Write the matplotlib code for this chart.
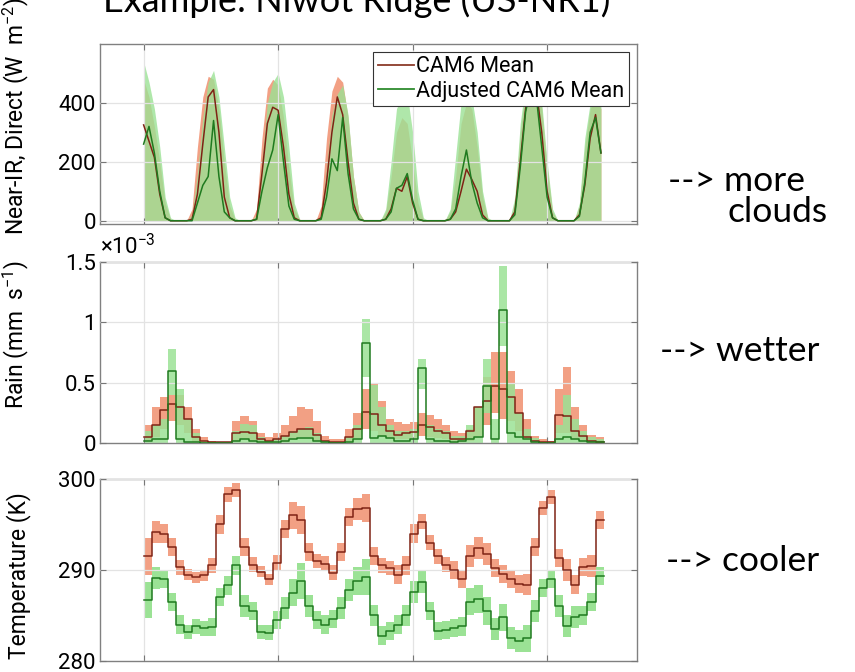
import matplotlib
matplotlib.use("Agg")
import matplotlib.pyplot as plt
from matplotlib.lines import Line2D
import numpy as np

# ---- data ----
# near-IR direct, 2-hourly, hours since start
sw_hours = list(range(0, 171, 2))
sw_cam = [325, 270, 215, 90, 10, 0, 0, 0, 0, 5, 90, 260,
          420, 445, 300, 80, 10, 0, 0, 0, 0, 5, 160, 330,
          385, 375, 250, 90, 10, 0, 0, 0, 0, 10, 130, 300,
          420, 360, 200, 60, 5, 0, 0, 0, 0, 5, 40, 110,
          100, 150, 60, 5, 0, 0, 0, 0, 0, 5, 30, 100,
          175, 140, 100, 20, 0, 0, 0, 0, 0, 30, 200, 380,
          460, 440, 300, 100, 10, 0, 0, 0, 0, 20, 120, 280,
          360, 230]
sw_adj = [260, 320, 230, 100, 10, 0, 0, 0, 0, 0, 60, 120,
          150, 340, 150, 30, 10, 0, 0, 0, 0, 5, 100, 180,
          240, 360, 200, 50, 5, 0, 0, 0, 0, 5, 80, 210,
          170, 350, 160, 40, 5, 0, 0, 0, 0, 5, 30, 110,
          120, 160, 70, 5, 0, 0, 0, 0, 0, 5, 40, 150,
          240, 130, 60, 10, 0, 0, 0, 0, 0, 20, 180, 370,
          450, 420, 250, 80, 10, 0, 0, 0, 0, 15, 130, 300,
          350, 230]
sw_cam_hi = [480, 420, 320, 200, 60, 5, 0, 0, 0, 40, 250, 420,
             490, 480, 380, 200, 50, 5, 0, 0, 0, 40, 280, 450,
             480, 460, 350, 180, 40, 5, 0, 0, 0, 50, 280, 440,
             490, 470, 350, 150, 30, 0, 0, 0, 0, 30, 150, 300,
             350, 330, 200, 60, 5, 0, 0, 0, 0, 30, 150, 330,
             400, 380, 250, 80, 5, 0, 0, 0, 0, 60, 300, 450,
             490, 480, 380, 180, 30, 0, 0, 0, 0, 50, 250, 380,
             420, 380]
sw_adj_hi = [540, 470, 380, 250, 80, 10, 0, 0, 0, 20, 160, 350,
             470, 510, 420, 250, 80, 10, 0, 0, 0, 20, 200, 400,
             470, 500, 420, 250, 60, 5, 0, 0, 0, 20, 180, 360,
             430, 460, 360, 150, 30, 0, 0, 0, 0, 40, 200, 380,
             420, 430, 300, 100, 10, 0, 0, 0, 0, 40, 220, 400,
             450, 420, 300, 100, 10, 0, 0, 0, 0, 80, 330, 470,
             500, 490, 400, 200, 40, 0, 0, 0, 0, 60, 280, 400,
             430, 400]

# rain (x 1e-3 mm/s), 3-hourly steps
rain_cam = [0.05, 0.15, 0.27, 0.32, 0.30, 0.20, 0.05, 0.02, 0.01, 0.005,
            0.005, 0.08, 0.09, 0.08, 0.03, 0.02, 0.03, 0.06, 0.09, 0.12,
            0.12, 0.07, 0.02, 0.01, 0.01, 0.05, 0.12, 0.26, 0.24, 0.15,
            0.10, 0.07, 0.08, 0.09, 0.15, 0.13, 0.10, 0.08, 0.03, 0.03,
            0.10, 0.30, 0.35, 0.47, 0.45, 0.38, 0.25, 0.05, 0.02, 0.01,
            0.005, 0.23, 0.22, 0.10, 0.06, 0.02, 0.01]
rain_cam_lo = [0.02, 0.05, 0.12, 0.18, 0.15, 0.08, 0.01, 0, 0, 0,
               0, 0.02, 0.03, 0.02, 0.01, 0, 0, 0.01, 0.03, 0.05,
               0.05, 0.02, 0, 0, 0, 0.01, 0.04, 0.12, 0.10, 0.06,
               0.04, 0.03, 0.03, 0.04, 0.06, 0.05, 0.04, 0.03, 0.01, 0.01,
               0.02, 0.06, 0.15, 0.25, 0.20, 0.18, 0.10, 0.03, 0, 0,
               0, 0.08, 0.08, 0.03, 0.02, 0, 0]
rain_cam_hi = [0.15, 0.30, 0.38, 0.40, 0.40, 0.30, 0.12, 0.05, 0.02, 0.01,
               0.01, 0.18, 0.22, 0.18, 0.08, 0.05, 0.08, 0.15, 0.22, 0.30,
               0.28, 0.18, 0.06, 0.03, 0.03, 0.12, 0.25, 0.45, 0.50, 0.35,
               0.20, 0.17, 0.16, 0.17, 0.25, 0.23, 0.20, 0.15, 0.10, 0.08,
               0.12, 0.30, 0.55, 0.75, 0.75, 0.60, 0.45, 0.20, 0.06, 0.03,
               0.02, 0.45, 0.63, 0.30, 0.15, 0.07, 0.05]
rain_adj = [0.02, 0.03, 0.03, 0.60, 0.03, 0.01, 0.005, 0, 0, 0,
            0, 0.02, 0.03, 0.02, 0.01, 0.005, 0.01, 0.02, 0.03, 0.04,
            0.04, 0.02, 0.005, 0, 0, 0.01, 0.03, 0.83, 0.04, 0.06,
            0.04, 0.02, 0.02, 0.03, 0.62, 0.03, 0.02, 0.02, 0.01, 0.02,
            0.03, 0.05, 0.47, 0.03, 1.10, 0.08, 0.05, 0.03, 0.01, 0,
            0, 0.03, 0.05, 0.03, 0.02, 0.01, 0.005]
rain_adj_lo = [0, 0, 0, 0.40, 0, 0, 0, 0, 0, 0,
               0, 0, 0, 0, 0, 0, 0, 0, 0, 0,
               0, 0, 0, 0, 0, 0, 0, 0.55, 0, 0,
               0, 0, 0, 0, 0.45, 0, 0, 0, 0, 0,
               0, 0, 0.25, 0, 0.80, 0, 0, 0, 0, 0,
               0, 0, 0, 0, 0, 0, 0]
rain_adj_hi = [0.10, 0.15, 0.20, 0.78, 0.45, 0.20, 0.08, 0.02, 0.01, 0,
               0, 0.10, 0.16, 0.15, 0.05, 0.02, 0.03, 0.06, 0.10, 0.12,
               0.13, 0.08, 0.02, 0.01, 0.01, 0.05, 0.15, 1.03, 0.48, 0.30,
               0.15, 0.10, 0.10, 0.12, 0.70, 0.15, 0.12, 0.10, 0.06, 0.06,
               0.15, 0.30, 0.70, 0.20, 1.47, 0.50, 0.25, 0.12, 0.04, 0.01,
               0.01, 0.15, 0.40, 0.20, 0.10, 0.05, 0.03]

# temperature (K), 3-hourly steps
temp_cam = [291.5, 294.2, 294.0, 292.5, 290.3, 289.5, 289.2, 289.4, 290.5, 295.0,
            298.3, 298.8, 292.5, 290.6, 289.8, 289.0, 290.8, 294.5, 296.0, 295.5,
            292.0, 291.0, 290.7, 289.7, 292.0, 295.8, 296.7, 296.8, 291.5, 290.5,
            290.2, 289.5, 290.5, 294.0, 295.3, 293.0, 291.5, 290.6, 290.0, 289.0,
            291.5, 292.4, 291.8, 290.2, 289.6, 289.0, 288.5, 288.4, 292.5, 296.8,
            298.0, 291.3, 290.0, 288.4, 290.3, 290.4, 295.5]
temp_cam_spread = [2.0, 1.2, 1.0, 1.0, 0.8, 0.6, 0.6, 0.6, 0.8, 1.0,
                   0.8, 0.8, 1.0, 0.8, 0.6, 0.6, 0.8, 1.0, 1.5, 1.5,
                   1.0, 0.8, 0.8, 0.8, 1.0, 1.0, 1.2, 1.5, 1.0, 0.8,
                   0.8, 1.0, 1.0, 1.0, 0.8, 0.8, 0.8, 0.8, 1.0, 1.0,
                   1.2, 1.2, 1.2, 1.0, 1.0, 1.0, 1.0, 1.2, 1.0, 0.8,
                   0.8, 1.0, 1.2, 1.0, 1.0, 1.2, 1.0]
temp_adj = [286.7, 289.1, 289.0, 286.5, 284.0, 283.2, 283.8, 283.6, 283.7, 287.0,
            288.3, 290.5, 286.0, 285.5, 283.2, 283.1, 284.5, 285.8, 287.5, 288.8,
            286.0, 284.5, 284.0, 284.6, 285.8, 287.8, 288.8, 289.2, 285.0, 282.8,
            283.3, 284.0, 285.0, 287.6, 288.7, 285.5, 283.3, 283.4, 283.6, 283.8,
            286.5, 286.8, 285.5, 283.5, 284.8, 282.5, 282.2, 282.5, 285.5, 288.0,
            289.0, 286.0, 283.8, 284.8, 285.0, 286.5, 289.3]
temp_adj_spread = [2.0, 1.2, 1.0, 1.0, 1.0, 0.8, 0.8, 0.8, 1.0, 1.0,
                   1.0, 1.0, 1.2, 1.0, 0.8, 0.8, 1.0, 1.2, 1.5, 2.0,
                   1.2, 1.0, 1.0, 1.0, 1.2, 1.2, 1.5, 2.0, 1.2, 1.0,
                   1.0, 1.0, 1.2, 1.2, 1.2, 1.0, 1.0, 1.0, 1.0, 1.0,
                   1.5, 1.5, 1.5, 1.2, 1.5, 1.2, 1.2, 1.5, 1.2, 1.0,
                   1.0, 1.2, 1.2, 1.2, 1.0, 1.0, 1.0]

step_hours = 3
grid_hours = [0, 50, 100, 150]

# ---- style ----
plt.rcParams['font.family'] = ['Roboto', 'DejaVu Sans']
plt.rcParams['mathtext.fontset'] = 'custom'
plt.rcParams['mathtext.rm'] = 'Roboto'
plt.rcParams['mathtext.it'] = 'Roboto'

c_cam_band = '#F2A084'
c_adj_band = '#9BE295'
c_cam = '#7F2315'
c_adj = '#1F7A1F'

fig = plt.figure(figsize=(8.55, 6.72), dpi=100)
ax1 = fig.add_axes([0.117, 0.6667, 0.628, 0.268])
ax2 = fig.add_axes([0.117, 0.3408, 0.628, 0.2693])
ax3 = fig.add_axes([0.117, 0.0164, 0.628, 0.2708])


def stepify(vals):
    v = np.asarray(vals, dtype=float)
    edges = np.arange(len(v) + 1) * step_hours
    return edges, np.append(v, v[-1])


def style(ax):
    ax.set_xlim(-16.2, 183.4)
    ax.set_xticks(grid_hours)
    ax.set_xticklabels([])
    ax.grid(True, color='#E3E3E3', linewidth=0.9)
    ax.set_axisbelow(False)
    ax.tick_params(direction='in', top=True, right=True, length=4,
                   color='#777777', labelsize=16, pad=3)
    for s in ax.spines.values():
        s.set_color('#808080')
        s.set_linewidth(1.0)


# panel 1
t = np.array(sw_hours)
ax1.fill_between(t, 0, sw_cam_hi, color=c_cam_band, lw=0, zorder=1)
ax1.fill_between(t, 0, sw_adj_hi, color=c_adj_band, lw=0, alpha=0.8, zorder=2)
ax1.plot(t, sw_cam, color=c_cam, lw=1.1, zorder=3)
ax1.plot(t, sw_adj, color=c_adj, lw=1.1, zorder=3)
style(ax1)
ax1.set_ylim(-11, 600)
ax1.set_yticks([0, 200, 400])
ax1.set_ylabel('Near-IR, Direct (W  m$^{-2}$)', fontsize=16.5)
ax1.yaxis.set_label_coords(-0.128, 0.6)
handles = [Line2D([], [], color='#8B3A2A', lw=1.3),
           Line2D([], [], color='#2E8B2E', lw=1.3)]
leg = ax1.legend(handles, ['CAM6 Mean', 'Adjusted CAM6 Mean'], loc='upper right',
                 bbox_to_anchor=(0.985, 0.955), fontsize=15.5, frameon=True,
                 fancybox=False, framealpha=1, handlelength=1.7,
                 handletextpad=0.1, borderpad=0.2, labelspacing=0.15,
                 borderaxespad=0)
leg.get_frame().set_edgecolor('#333333')
leg.get_frame().set_linewidth(0.8)

# panel 2
e, v = stepify(rain_cam_lo)
_, vh = stepify(rain_cam_hi)
ax2.fill_between(e, v, vh, step='post', color=c_cam_band, lw=0, zorder=1)
e, v = stepify(rain_adj_lo)
_, vh = stepify(rain_adj_hi)
ax2.fill_between(e, v, vh, step='post', color=c_adj_band, lw=0, alpha=0.85, zorder=2)
e, v = stepify(rain_cam)
ax2.plot(e, v, drawstyle='steps-post', color=c_cam, lw=1.1, zorder=3)
e, v = stepify(rain_adj)
ax2.plot(e, v, drawstyle='steps-post', color=c_adj, lw=1.1, zorder=3)
style(ax2)
ax2.set_ylim(0, 1.5)
ax2.set_yticks([0, 0.5, 1, 1.5])
ax2.set_yticklabels(['0', '0.5', '1', '1.5'])
ax2.set_ylabel('Rain (mm  s$^{-1}$)', fontsize=16.5)
ax2.yaxis.set_label_coords(-0.128, 0.6)
ax2.text(0.0, 1.015, r'$\times$10$^{-3}$', transform=ax2.transAxes, fontsize=16,
         ha='left', va='bottom')

# panel 3
e, v = stepify(temp_cam)
_, sp = stepify(temp_cam_spread)
ax3.fill_between(e, v - sp, v + sp, step='post', color=c_cam_band, lw=0, zorder=1)
e, va = stepify(temp_adj)
_, spa = stepify(temp_adj_spread)
ax3.fill_between(e, va - spa, va + spa, step='post', color=c_adj_band, lw=0, zorder=1)
ax3.plot(e, v, drawstyle='steps-post', color=c_cam, lw=1.1, zorder=3)
ax3.plot(e, va, drawstyle='steps-post', color=c_adj, lw=1.1, zorder=3)
style(ax3)
ax3.set_ylim(280, 300)
ax3.set_yticks([280, 290, 300])
ax3.set_ylabel('Temperature (K)', fontsize=16.5)
ax3.yaxis.set_label_coords(-0.128, 0.47)

# annotations
afont = ['Lato', 'DejaVu Sans']
fig.text(103 / 855, 1 - 12 / 672, 'Example: Niwot Ridge (US-NR1)', fontsize=26,
         family=afont, ha='left', va='baseline')
fig.text(668 / 855, 1 - 191 / 672, '--> more', fontsize=25.5, family=afont,
         ha='left', va='baseline')
fig.text(727 / 855, 1 - 222 / 672, 'clouds', fontsize=25.5, family=afont,
         ha='left', va='baseline')
fig.text(660 / 855, 1 - 361 / 672, '--> wetter', fontsize=25.5, family=afont,
         ha='left', va='baseline')
fig.text(666 / 855, 1 - 571 / 672, '--> cooler', fontsize=25.5, family=afont,
         ha='left', va='baseline')

fig.savefig('out.png', dpi=100)
